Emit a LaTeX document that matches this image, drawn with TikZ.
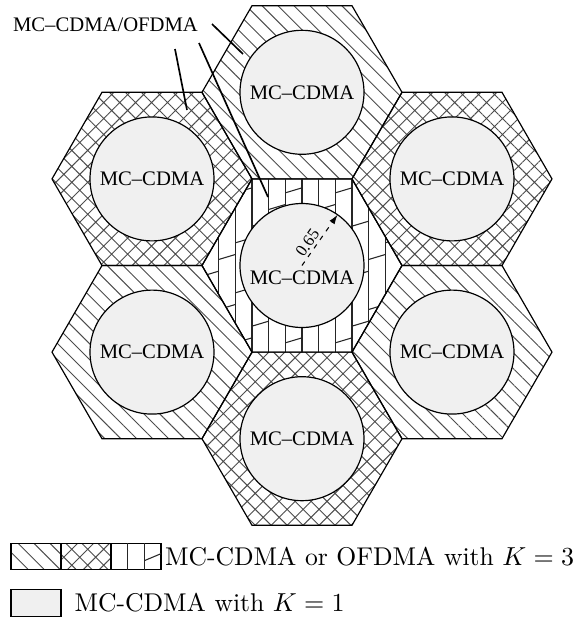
\documentclass[tikz,border=0pt]{standalone}
\usepackage{fontspec}
\newfontfamily\cellfont{Liberation Serif}
\usepackage{tikz}
\usetikzlibrary{arrows.meta, positioning, calc, patterns.meta}

\begin{document}
\begin{tikzpicture}[x=1.48cm, y=1.48cm,
    hexcell/.style={draw, line width=0.5pt},
    slashfill/.style={pattern={Lines[angle=-45, distance=4.75pt, line width=0.4pt]}, pattern color=black!70},
    crossfill/.style={pattern={Hatch[angle=45, distance=4.75pt, line width=0.4pt]}, pattern color=black!70},
    barline/.style={line width=0.45pt, black!85},
    core/.style={draw, circle, fill=gray!12, line width=0.5pt, minimum size=1.835cm, inner sep=0pt, outer sep=0pt, font=\cellfont\fontsize{8.7}{10}\selectfont},
    celltext/.style={font=\cellfont\fontsize{8.7}{10}\selectfont, inner sep=0pt},
    pointer/.style={line width=0.7pt},
    radiusline/.style={dashed, dash pattern=on 2pt off 2.4pt, line width=0.45pt, -{Latex[length=4pt, width=2.6pt]}},
    legbox/.style={draw, line width=0.5pt, minimum width=0.74cm, minimum height=0.39cm, inner sep=0pt, outer sep=0pt},
    legtext/.style={font=\fontsize{10.8}{13}\selectfont, inner sep=0pt},
]
  \useasboundingbox (-3.02,-3.555) rectangle (2.80,2.655);

  \path[hexcell, slashfill] (0,1.732) +(0:1) -- +(60:1) -- +(120:1) -- +(180:1) -- +(240:1) -- +(300:1) -- cycle;
  \path[hexcell, crossfill] (-1.5,0.866) +(0:1) -- +(60:1) -- +(120:1) -- +(180:1) -- +(240:1) -- +(300:1) -- cycle;
  \path[hexcell, crossfill] (1.5,0.866) +(0:1) -- +(60:1) -- +(120:1) -- +(180:1) -- +(240:1) -- +(300:1) -- cycle;
  \path[hexcell, slashfill] (-1.5,-0.866) +(0:1) -- +(60:1) -- +(120:1) -- +(180:1) -- +(240:1) -- +(300:1) -- cycle;
  \path[hexcell, slashfill] (1.5,-0.866) +(0:1) -- +(60:1) -- +(120:1) -- +(180:1) -- +(240:1) -- +(300:1) -- cycle;
  \path[hexcell, crossfill] (0,-1.732) +(0:1) -- +(60:1) -- +(120:1) -- +(180:1) -- +(240:1) -- +(300:1) -- cycle;

  \begin{scope}
    \clip (0,0) +(0:1) -- +(60:1) -- +(120:1) -- +(180:1) -- +(240:1) -- +(300:1) -- cycle;
    \foreach \k in {-6,...,6}
      \draw[barline] ({\k/6},-1) -- ({\k/6},1);
    \foreach \k in {-6,...,5}
      \foreach \m in {-4,...,4}
        \draw[barline] ({\k/6},{\k/6+1/12-0.19+0.5*\m}) -- ++(1/6,0.05);
  \end{scope}
  \draw[hexcell] (0,0) +(0:1) -- +(60:1) -- +(120:1) -- +(180:1) -- +(240:1) -- +(300:1) -- cycle;

  \node[core] (top) at (0,1.732) {MC–CDMA};
  \node[core] (upleft) at (-1.5,0.866) {MC–CDMA};
  \node[core] (upright) at (1.5,0.866) {MC–CDMA};
  \node[core] (lowleft) at (-1.5,-0.866) {MC–CDMA};
  \node[core] (lowright) at (1.5,-0.866) {MC–CDMA};
  \node[core] (bottom) at (0,-1.732) {MC–CDMA};
  \node[core] (mid) at (0,0) {};
  \node[celltext] (midtext) at (0,-0.125) {MC–CDMA};

  \draw[radiusline] (mid.center) -- node[sloped, above, pos=0.35, inner sep=1pt, font=\cellfont\fontsize{7}{8}\selectfont] {0.65} (mid.55.7);

  \node[celltext] (multi) at (-1.965,2.405) {MC–CDMA/OFDMA};
  \coordinate (s1) at (-0.90,2.415);
  \coordinate (t1) at (-0.59,2.115);
  \coordinate (s2) at (-1.27,2.165);
  \coordinate (t2) at (-1.15,1.555);
  \coordinate (s3) at (-1.03,2.225);
  \coordinate (t3) at (-0.34,0.685);
  \draw[pointer] (s1) -- (t1);
  \draw[pointer] (s2) -- (t2);
  \draw[pointer] (s3) -- (t3);

  \node[legbox, slashfill] (keyslash) at (-2.66,-2.91) {};
  \node[legbox, crossfill, right=0pt of keyslash] (keycross) {};
  \node[legbox, right=0pt of keycross] (keybar) {};
  \draw[barline] ($(keybar.south west)!1/3!(keybar.south east)$) -- ($(keybar.north west)!1/3!(keybar.north east)$);
  \draw[barline] ($(keybar.south west)!2/3!(keybar.south east)$) -- ($(keybar.north west)!2/3!(keybar.north east)$);
  \draw[barline] ($(keybar.south west)!2/3!(keybar.south east)+(0,0.09)$) -- ($(keybar.south east)+(0,0.16)$);
  \node[legtext, right=1.5pt of keybar] (keymulti) {MC-CDMA or OFDMA with $K=3$};

  \node[legbox, fill=gray!12] (keycore) at (-2.66,-3.375) {};
  \node[legtext, right=5.5pt of keycore] (keysingle) {MC-CDMA with $K=1$};
\end{tikzpicture}
\end{document}
